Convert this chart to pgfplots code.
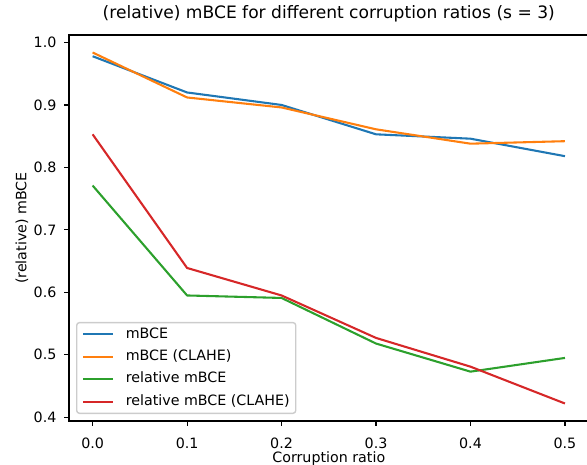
\documentclass[border=0pt]{standalone}
\usepackage{fontspec}
\setmainfont{DejaVu Sans}
\usepackage{pgfplots}
\pgfplotsset{compat=1.18}
\definecolor{c1}{HTML}{1F77B4}
\definecolor{c2}{HTML}{FF7F0E}
\definecolor{c3}{HTML}{2CA02C}
\definecolor{c4}{HTML}{D62728}
\newcommand\fs{\fontsize{14.25pt}{17pt}\selectfont}
\begin{document}
\begin{tikzpicture}
\begin{axis}[
  at={(0pt,0pt)}, anchor=south west,
  scale only axis, width=519.6pt, height=386pt,
  xmin=-0.025, xmax=0.525, ymin=0.394, ymax=1.012,
  xtick={0,0.1,0.2,0.3,0.4,0.5},
  xticklabels={0.0,0.1,0.2,0.3,0.4,0.5},
  ytick={0.4,0.5,0.6,0.7,0.8,0.9,1.0},
  yticklabels={0.4,0.5,0.6,0.7,0.8,0.9,1.0},
  xtick pos=bottom, ytick pos=left,
  tick align=outside, major tick length=4.9pt,
  every tick/.style={black, line width=1.1pt},
  axis line style={black, line width=1.1pt},
  xticklabel style={font=\fs, inner sep=0pt, anchor=north, yshift=-11.5pt},
  yticklabel style={font=\fs, inner sep=0pt, anchor=east, xshift=-7.5pt},
  title={(relative) mBCE for different corruption ratios (s = 3)},
  title style={at={(axis description cs:0.5,1)}, anchor=south, yshift=6.5pt, inner sep=0pt, font=\fontsize{17.1pt}{20pt}\selectfont},
  xlabel={Corruption ratio},
  ylabel={(relative) mBCE},
  every axis x label/.style={at={(axis description cs:0.5,0)}, anchor=north, yshift=-30.5pt, inner sep=0pt, font=\fs},
  every axis y label/.style={at={(axis description cs:-0.0905,0.5)}, anchor=center, rotate=90, inner sep=0pt, font=\fs},
  legend cell align=left,
  legend style={at={(0.01347,0.01813)}, anchor=south west, draw=black!20, line width=1.39pt,
    rounded corners=2.8pt, fill=white, fill opacity=0.8, text opacity=1, draw opacity=1,
    inner xsep=6pt, inner ysep=5pt, row sep=8.9pt, font=\fs,
    nodes={inner sep=0pt, text height=10.5pt, text depth=3pt}},
  legend image code/.code={\draw[#1, line cap=rect] (0pt,0pt) -- (28pt,0pt); \path (41pt,0pt);},
  every axis plot/.append style={line width=2.08pt, line join=round},
]
\addplot[c1] coordinates {(0,0.978) (0.1,0.920) (0.2,0.900) (0.3,0.853) (0.4,0.846) (0.5,0.818)};
\addlegendentry{mBCE}
\addplot[c2] coordinates {(0,0.984) (0.1,0.912) (0.2,0.896) (0.3,0.861) (0.4,0.838) (0.5,0.842)};
\addlegendentry{mBCE (CLAHE)}
\addplot[c3] coordinates {(0,0.771) (0.1,0.595) (0.2,0.591) (0.3,0.518) (0.4,0.473) (0.5,0.495)};
\addlegendentry{relative mBCE}
\addplot[c4] coordinates {(0,0.853) (0.1,0.639) (0.2,0.595) (0.3,0.527) (0.4,0.481) (0.5,0.422)};
\addlegendentry{relative mBCE (CLAHE)}
\end{axis}
\pgfresetboundingbox
\path[use as bounding box] (-69pt,-43pt) rectangle (518pt,421pt);
\end{tikzpicture}
\end{document}
